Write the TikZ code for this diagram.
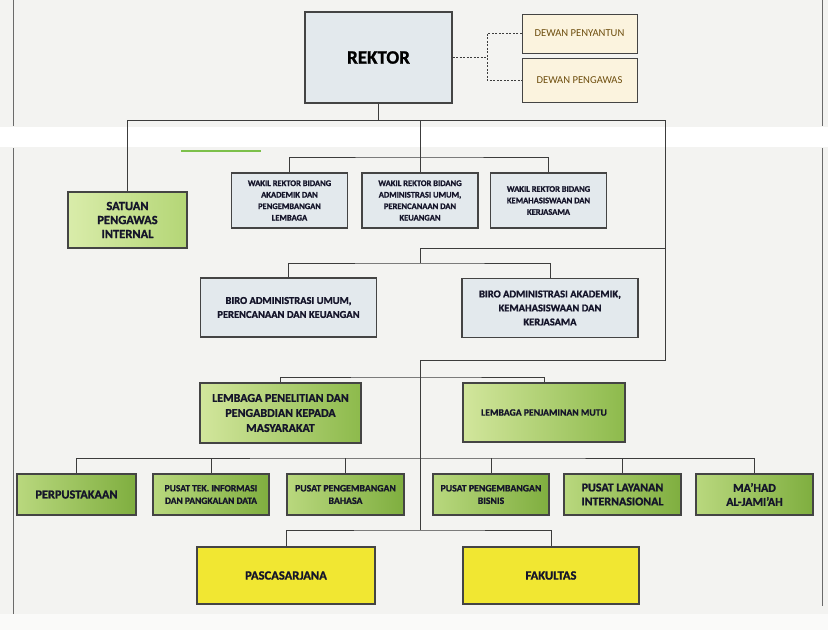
\documentclass[tikz,border=0pt]{standalone}
\usepackage{fontspec}
\setmainfont{Carlito}[BoldFeatures={FakeBold=1.2}]
\definecolor{bg}{HTML}{F3F3F1}
\definecolor{boxline}{HTML}{444444}
\definecolor{linec}{HTML}{3C3C3C}
\definecolor{txt}{HTML}{15152A}
\definecolor{greyfill}{HTML}{E3E9ED}
\definecolor{cream}{HTML}{FBF3DE}
\definecolor{dewantxt}{HTML}{6E4E0E}
\definecolor{ga}{HTML}{D9ECAA}
\definecolor{gb}{HTML}{B4D676}
\definecolor{gc}{HTML}{D2E69C}
\definecolor{gd}{HTML}{8DBA4C}
\definecolor{ge}{HTML}{B9D87E}
\definecolor{gf}{HTML}{7FAE3F}
\definecolor{yel}{HTML}{F1E732}
\definecolor{frame}{HTML}{6A6A6A}
\definecolor{artgreen}{HTML}{7CC04A}
\tikzset{
  base/.style={draw=boxline, line width=1.1pt, align=center, inner sep=1pt, font=\bfseries, text=txt},
  greybox/.style={base, fill=greyfill},
  dewanbox/.style={draw=boxline, line width=0.8pt, align=center, inner sep=1pt, fill=cream, text=dewantxt,
    font=\fontsize{10.6}{12}\selectfont, minimum width=115pt},
  spibox/.style={base, left color=ga, right color=gb},
  lembox/.style={base, left color=gc, right color=gd},
  rowbox/.style={base, left color=ge, right color=gf, minimum height=41pt},
  yelbox/.style={base, fill=yel, minimum height=57pt, font=\bfseries\fontsize{12.6}{14}\selectfont},
  wrbox/.style={greybox, minimum width=116pt, minimum height=55pt, font=\bfseries\fontsize{8.5}{11.5}\selectfont},
  birobox/.style={greybox, minimum width=176pt, minimum height=59pt, font=\bfseries\fontsize{10.5}{14}\selectfont},
  link/.style={draw=linec, line width=0.9pt},
  dlink/.style={draw=linec, line width=0.9pt, dash pattern=on 2pt off 1.5pt},
}
\begin{document}
\begin{tikzpicture}[x=1pt,y=-1pt]
% background
\fill[bg] (0,0) rectangle (828,630);
\useasboundingbox (0,0) rectangle (828,630);
\fill[white] (0,127) rectangle (828,147);
\fill[white!60!bg] (0,614) rectangle (828,630);
% scan frame lines
\draw[frame, line width=0.9pt] (13,0) -- (13,126);
\draw[frame, line width=0.9pt] (13,148) -- (13,614);
\draw[frame, line width=0.9pt] (822,0) -- (822,126);
\draw[frame, line width=0.9pt] (822,148) -- (822,606);
\draw[artgreen, line width=1.2pt] (181,151) -- (261,151);

% top
\node[greybox, minimum width=147pt, minimum height=91pt, font=\bfseries\fontsize{19}{22}\selectfont, text=black] (rektor) at (378.5,57.5) {REKTOR};
\node[dewanbox, minimum height=39pt] (penyantun) at (579.5,33.5) {DEWAN PENYANTUN};
\node[dewanbox, minimum height=44pt] (pengawas) at (579.5,80) {DEWAN PENGAWAS};

% second level
\node[spibox, minimum width=119pt, minimum height=56pt, font=\bfseries\fontsize{12.5}{14}\selectfont] (spi) at (127.5,220) {SATUAN\\PENGAWAS\\INTERNAL};
\node[wrbox] (wr1) at (289.5,200.5) {WAKIL REKTOR BIDANG\\AKADEMIK DAN\\PENGEMBANGAN\\LEMBAGA};
\node[wrbox] (wr2) at (420,200.5) {WAKIL REKTOR BIDANG\\ADMINISTRASI UMUM,\\PERENCANAAN DAN\\KEUANGAN};
\node[wrbox] (wr3) at (548.5,200.5) {WAKIL REKTOR BIDANG\\KEMAHASISWAAN DAN\\KERJASAMA};

% biro
\node[birobox] (biro1) at (288.5,307.5) {BIRO ADMINISTRASI UMUM,\\PERENCANAAN DAN KEUANGAN};
\node[birobox] (biro2) at (550,308) {BIRO ADMINISTRASI AKADEMIK,\\KEMAHASISWAAN DAN\\KERJASAMA};

% lembaga
\node[lembox, minimum width=161pt, minimum height=60pt, font=\bfseries\fontsize{12}{15}\selectfont] (lppm) at (280.5,413) {LEMBAGA PENELITIAN DAN\\PENGABDIAN KEPADA\\MASYARAKAT};
\node[lembox, minimum width=162pt, minimum height=59pt, font=\bfseries\fontsize{9.7}{12}\selectfont] (lpm) at (544,412.5) {LEMBAGA PENJAMINAN MUTU};

% row of units
\node[rowbox, minimum width=119pt, font=\bfseries\fontsize{12.3}{14}\selectfont] (perpus) at (76.5,494.5) {PERPUSTAKAAN};
\node[rowbox, minimum width=116pt, font=\bfseries\fontsize{9.5}{12.5}\selectfont] (ptipd) at (211,494.5) {PUSAT TEK. INFORMASI\\DAN PANGKALAN DATA};
\node[rowbox, minimum width=117pt, font=\bfseries\fontsize{9.8}{12.5}\selectfont] (pbahasa) at (345.5,494.5) {PUSAT PENGEMBANGAN\\BAHASA};
\node[rowbox, minimum width=116pt, font=\bfseries\fontsize{9.8}{12.5}\selectfont] (pbisnis) at (491,494.5) {PUSAT PENGEMBANGAN\\BISNIS};
\node[rowbox, minimum width=117pt, font=\bfseries\fontsize{12}{14}\selectfont] (pli) at (622.5,494.5) {PUSAT LAYANAN\\INTERNASIONAL};
\node[rowbox, minimum width=117pt, font=\bfseries\fontsize{12}{14}\selectfont] (mahad) at (754.5,494.5) {MA'HAD\\AL-JAMI'AH};

% bottom
\node[yelbox, minimum width=178pt] (pasca) at (286,575.5) {PASCASARJANA};
\node[yelbox, minimum width=176pt] (fak) at (551,575.5) {FAKULTAS};

% junctions
\coordinate (jL) at (127.5,120);
\coordinate (jM) at (378.5,120);
\coordinate (jW) at (420,120);
\coordinate (jR) at (665,120);
\coordinate (jW2) at (420,157);
\coordinate (jB0) at (665,248);
\coordinate (jB1) at (420,248);
\coordinate (jB2) at (420,263);
\coordinate (jC0) at (665,360);
\coordinate (jC1) at (420,360);
\coordinate (jC2) at (420,377);
\coordinate (jC3) at (420,458);
\coordinate (jC4) at (420,530);
\coordinate (jD) at (487,57.5);

% connectors
\draw[link] (rektor.south) -- (jM);
\draw[link] (spi.north) -- (jL) -- (jR) -- (jC0) -- (jC1) -- (jC4);
\draw[link] (jW) -- (jW2);
\draw[link] (wr1.north) |- (jW2) -| (wr3.north);
\draw[link] (wr2.north) -- (jW2);
\draw[link] (jB0) -- (jB1) -- (jB2);
\draw[link] (biro1.north) |- (jB2) -| (biro2.north);
\draw[link] (lppm.north) |- (jC2) -| (lpm.north);
\draw[link] (perpus.north) |- (jC3) -| (mahad.north);
\draw[link] (ptipd.north) -- (ptipd.north |- jC3);
\draw[link] (pbahasa.north) -- (pbahasa.north |- jC3);
\draw[link] (pbisnis.north) -- (pbisnis.north |- jC3);
\draw[link] (pli.north) -- (pli.north |- jC3);
\draw[link] (pasca.north) |- (jC4) -| (fak.north);
\draw[dlink] (rektor.east) -- (jD);
\draw[dlink] (penyantun.west) -| (jD) |- (pengawas.west);
\end{tikzpicture}
\end{document}
